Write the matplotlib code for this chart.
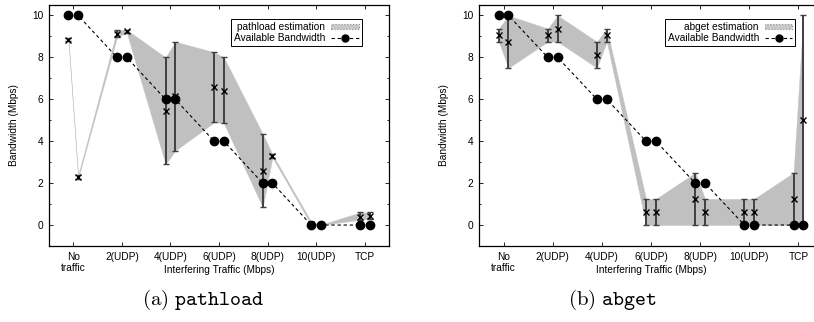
import matplotlib
matplotlib.use("Agg")
import matplotlib.pyplot as plt
import numpy as np
from matplotlib.patches import Patch
from matplotlib.lines import Line2D
from matplotlib.ticker import MultipleLocator

plt.rcParams['font.family'] = ['Liberation Sans', 'DejaVu Sans']
plt.rcParams['mathtext.fontset'] = 'cm'

categories = ["No\ntraffic", "2(UDP)", "4(UDP)", "6(UDP)", "8(UDP)", "10(UDP)", "TCP"]

# two runs per category, drawn at -0.1 / +0.1 around the tick
available = [10, 10, 8, 8, 6, 6, 4, 4, 2, 2, 0, 0, 0, 0]

pathload_mid = [8.85, 2.3, 9.1, 9.25, 5.45, 6.15, 6.6, 6.4, 2.6, 3.3, 0.05, 0.0, 0.4, 0.45]
pathload_lo = [8.78, 2.22, 8.95, 9.18, 2.9, 3.55, 4.9, 4.85, 0.85, 3.22, 0.0, 0.0, 0.25, 0.3]
pathload_hi = [8.92, 2.38, 9.3, 9.32, 8.0, 8.75, 8.25, 8.0, 4.35, 3.38, 0.15, 0.02, 0.6, 0.6]

abget_mid = [9.06, 8.75, 9.06, 9.375, 8.125, 9.06, 0.625, 0.625, 1.25, 0.625, 0.625, 0.625, 1.25, 5.0]
abget_lo = [8.75, 7.5, 8.75, 8.75, 7.5, 8.75, 0, 0, 0, 0, 0, 0, 0, 0]
abget_hi = [9.375, 10, 9.375, 10, 8.75, 9.375, 1.25, 1.25, 2.5, 1.25, 1.25, 1.25, 2.5, 10]

xpos = np.repeat(np.arange(len(categories)), 2) + np.tile([-0.1, 0.1], len(categories))

W, H = 814, 322
fig = plt.figure(figsize=(W / 100, H / 100), dpi=100)
ax1 = fig.add_axes([49 / W, 76 / H, 340 / W, 241 / H])
ax2 = fig.add_axes([479 / W, 76 / H, 344 / W, 241 / H])


def draw(ax, mid, lo, hi, name):
    mid, lo, hi = np.array(mid), np.array(lo), np.array(hi)
    ax.fill_between(xpos, lo, hi, color='#c0c0c0', lw=0.3, ec='#c8c8c8', zorder=1)
    ax.errorbar(xpos, mid, yerr=[mid - lo, hi - mid], fmt='x', color='black',
                ecolor='#404040', elinewidth=1.4, capsize=2, capthick=1,
                ms=5, mew=1, zorder=3)
    ax.plot(xpos, available, ls=(0, (3, 2.5)), lw=0.8, color='black',
            marker='o', ms=6, zorder=4)
    ax.set_xlim(-0.5, 6.5)
    ax.set_ylim(-1, 10.5)
    ax.set_xticks(range(len(categories)))
    ax.set_xticklabels(categories)
    ax.yaxis.set_major_locator(MultipleLocator(2))
    ax.yaxis.set_minor_locator(MultipleLocator(1))
    ax.tick_params(direction='in', top=True, right=True, labelsize=7.3,
                   length=3, width=0.6, pad=4)
    ax.tick_params(which='minor', direction='in', right=True, length=1.5, width=0.6)
    for s in ax.spines.values():
        s.set_linewidth(0.9)
    ax.set_xlabel("Interfering Traffic (Mbps)", fontsize=7.3)
    ax.xaxis.set_label_coords(0.5, -0.079)
    ax.set_ylabel("Bandwidth (Mbps)", fontsize=7.3)
    ax.yaxis.set_label_coords(-0.088, 0.5)
    handles = [Patch(facecolor='#c8c8c8', edgecolor='#909090', linestyle=':', lw=0.8),
               Line2D([], [], ls=(0, (3, 2.5)), lw=0.8, color='black', marker='o', ms=5)]
    leg = ax.legend(handles, [name + " estimation", "Available Bandwidth"],
                    loc='upper right', bbox_to_anchor=(0.92, 0.942),
                    markerfirst=False, fontsize=7.3, fancybox=False,
                    framealpha=1, edgecolor='black', handlelength=2.7,
                    handleheight=0.5, handletextpad=0.6, labelspacing=0.1,
                    borderpad=0.3, borderaxespad=0)
    leg.get_frame().set_linewidth(0.7)


draw(ax1, pathload_mid, pathload_lo, pathload_hi, "pathload")
draw(ax2, abget_mid, abget_lo, abget_hi, "abget")

fig.text(203 / W, 1 - 300 / H, r"$\mathrm{(a)}\ \mathtt{pathload}$", fontsize=15,
         ha='center', va='center')
fig.text(612 / W, 1 - 300 / H, r"$\mathrm{(b)}\ \mathtt{abget}$", fontsize=15,
         ha='center', va='center')

fig.savefig("out.png", dpi=100)
